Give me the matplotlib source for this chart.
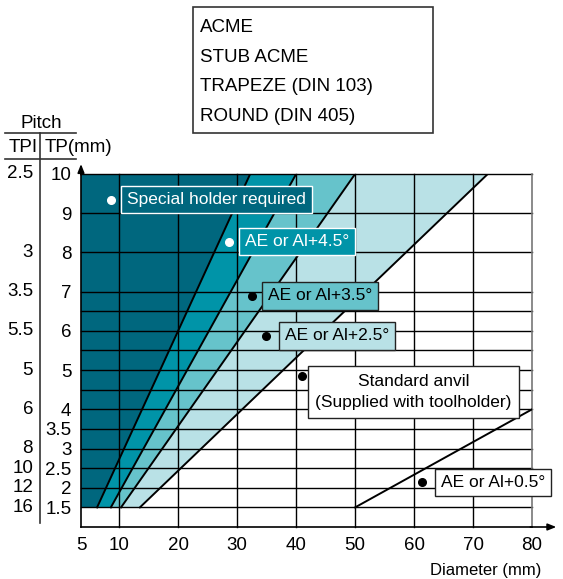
import numpy as np
import matplotlib
matplotlib.use("Agg")
import matplotlib.pyplot as plt
import matplotlib.transforms as mtransforms
from matplotlib.patches import Rectangle
from matplotlib.lines import Line2D

plt.rcParams['font.family'] = ['Liberation Sans', 'DejaVu Sans']

# ---------------- data ----------------
x_ticks = [5, 10, 20, 30, 40, 50, 60, 70, 80]
tp_ticks = [1.5, 2, 2.5, 3, 3.5, 4, 5, 6, 7, 8, 9, 10]
tp_labels = ["1.5", "2", "2.5", "3", "3.5", "4", "5", "6", "7", "8", "9", "10"]
tpi_positions = [10, 8, 7, 6, 5, 4, 3, 2.5, 2, 1.5]
tpi_labels = ["2.5", "3", "3.5", "5.5", "5", "6", "8", "10", "12", "16"]
grid_y = [1.5, 2, 2.5, 3, 3.5, 4, 4.5, 5, 5.5, 6, 6.5, 7, 8, 9, 10]
grid_x = [10, 20, 30, 40, 50, 60, 70, 80]

# zone boundaries (diameter at pitch 1.5 and at pitch 10)
boundary_bottom = [7.1, 8.9, 10.3, 13.5]
boundary_top = [32.2, 40.0, 50.0, 72.5]
zone_colors = ['#00677e', '#0094a8', '#66c3cb', '#b9e1e6']
pitch_min, pitch_max = 1.5, 10
line5_x = [50, 80]
line5_y = [1.5, 4.0]

legend_lines = ["ACME", "STUB ACME", "TRAPEZE (DIN 103)", "ROUND (DIN 405)"]

label_texts = ["Special holder required", "AE or Al+4.5°", "AE or Al+3.5°",
               "AE or Al+2.5°", "Standard anvil\n(Supplied with toolholder)", "AE or Al+0.5°"]
dot_x = [8.9, 28.6, 32.5, 34.9, 41.0, 61.4]
dot_y = [9.34, 8.27, 6.89, 5.87, 4.85, 2.14]

# ---------------- figure ----------------
W, H = 563, 579
fig = plt.figure(figsize=(W / 100, H / 100), dpi=100)
ax = fig.add_axes([81 / W, (H - 527) / H, (532 - 81) / W, (527 - 174) / H])

k = 38.3 / 29.5
def fwd(x):
    x = np.asarray(x, dtype=float)
    return np.where(x < 10, 10 - (10 - x) * k, x)
def inv(u):
    u = np.asarray(u, dtype=float)
    return np.where(u < 10, 10 - (10 - u) / k, u)

ax.set_xscale('function', functions=(fwd, inv))
ax.set_xlim(5, 80)
ax.set_ylim(1, 10)

# zones
left_b = [5] + boundary_bottom[:-1]
left_t = [5] + boundary_top[:-1]
for lb, lt, rb, rt, c in zip(left_b, left_t, boundary_bottom, boundary_top, zone_colors):
    ax.fill([lb, rb, rt, lt], [pitch_min, pitch_min, pitch_max, pitch_max],
            color=c, lw=0, zorder=1)

# grid
for gy in grid_y:
    ax.plot([5, 80], [gy, gy], color='black', lw=1.0, zorder=2, clip_on=False)
for gx in grid_x:
    col = '#777777' if gx == 80 else 'black'
    ax.plot([gx, gx], [1, 10], color=col, lw=1.2 if gx == 80 else 1.0, zorder=2, clip_on=False)

# boundary lines
for b, t in zip(boundary_bottom, boundary_top):
    ax.plot([b, t], [pitch_min, pitch_max], color='black', lw=1.4, zorder=3)
ax.plot(line5_x, line5_y, color='black', lw=1.4, zorder=3)

# spines & arrows
for s in ['top', 'right']:
    ax.spines[s].set_visible(False)
for s in ['left', 'bottom']:
    ax.spines[s].set_linewidth(1.2)
    ax.spines[s].set_zorder(4)
ax.annotate('', xy=(1.06, 0), xytext=(0.99, 0), xycoords='axes fraction',
            arrowprops=dict(arrowstyle='-|>,head_length=0.5,head_width=0.2', lw=1.2, color='black'))
ax.annotate('', xy=(0, 1.036), xytext=(0, 0.99), xycoords='axes fraction',
            arrowprops=dict(arrowstyle='-|>,head_length=0.5,head_width=0.2', lw=1.2, color='black'))

ax.set_xticks(x_ticks)
ax.set_xticklabels([str(v) for v in x_ticks])
ax.xaxis.set_minor_locator(matplotlib.ticker.NullLocator())
ax.set_yticks(tp_ticks)
ax.set_yticklabels(tp_labels)
ax.tick_params(axis='both', length=0, labelsize=13.5)
ax.tick_params(axis='x', pad=7)
ax.tick_params(axis='y', pad=7)
ax.patch.set_alpha(0)

# TPI labels
tr = mtransforms.blended_transform_factory(fig.transFigure, ax.transData)
for p, lab in zip(tpi_positions, tpi_labels):
    fig.text(33 / W, p, lab, transform=tr, ha='right', va='center', fontsize=13.5)

def fx(px):
    return px / W
def fy(py):
    return 1 - py / H

fig.add_artist(Line2D([fx(40), fx(40)], [fy(133), fy(523)], color='#333333', lw=1.2))
fig.add_artist(Line2D([fx(5), fx(76)], [fy(133), fy(133)], color='#333333', lw=1.2))
fig.add_artist(Line2D([fx(5), fx(76)], [fy(159), fy(159)], color='#333333', lw=1.2))
fig.text(fx(41), fy(124), "Pitch", ha='center', va='center', fontsize=13.5)
fig.text(fx(23), fy(147), "TPI", ha='center', va='center', fontsize=13.5)
fig.text(fx(45), fy(147), "TP(mm)", ha='left', va='center', fontsize=13.5)

fig.text(fx(541), fy(570), "Diameter (mm)", ha='right', va='center', fontsize=12)

# legend box
fig.add_artist(Rectangle((fx(193), fy(133)), fx(433) - fx(193), fy(7) - fy(133),
                         transform=fig.transFigure, fill=False, edgecolor='#333333', lw=1.2))
for i, t in enumerate(legend_lines):
    fig.text(fx(200), fy(28 + 29.4 * i), t, ha='left', va='center', fontsize=13.5)

# labels
box_face = ['#00677e', '#0094a8', '#66c3cb', '#b9e1e6', 'white', 'white']
box_edge = ['white', 'white', '#222222', '#222222', '#222222', '#222222']
text_col = ['white', 'white', 'black', 'black', 'black', 'black']
dot_col = ['white', 'white', 'black', 'black', 'black', 'black']
text_x = [11.3, 31.3, 35.2, 38.1, 59.9, 64.5]
text_y = [9.34, 8.27, 6.89, 5.87, 4.44, 2.14]
aligns = ['left', 'left', 'left', 'left', 'center', 'left']
pads = [0.35, 0.35, 0.35, 0.35, 0.42, 0.35]
for i, lab in enumerate(label_texts):
    ax.plot(dot_x[i], dot_y[i], 'o', ms=5.5, color=dot_col[i], zorder=6)
    ax.text(text_x[i], text_y[i], lab, ha=aligns[i], va='center', fontsize=12.5,
            color=text_col[i], zorder=7, linespacing=1.55, clip_on=False,
            bbox=dict(boxstyle='square,pad=%.2f' % pads[i], fc=box_face[i], ec=box_edge[i], lw=1.0))

fig.savefig('out.png', dpi=100)
